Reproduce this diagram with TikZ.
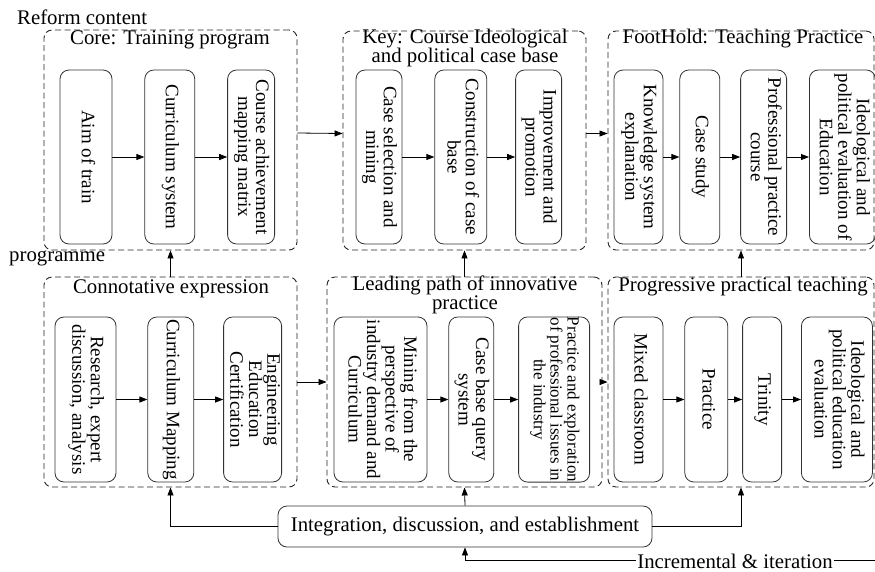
\documentclass[tikz,border=0pt]{standalone}
\usepackage{fontspec}
\setmainfont{Liberation Serif}
\usetikzlibrary{arrows.meta,positioning}
\newcommand{\vtext}[1]{\rotatebox{-90}{\begin{tabular}{@{}c@{}}#1\end{tabular}}}

\begin{document}
\begin{tikzpicture}[
    x=1pt, y=-1pt,
    stage/.style={draw=black!80, line width=0.8pt, rounded corners=9pt, inner sep=0pt, minimum height=174pt, font=\fontsize{19}{17.5}\selectfont},
    lowstage/.style={stage, minimum height=165pt},
    group/.style={draw=black!85, line width=0.9pt, dash pattern=on 6pt off 3.5pt, rounded corners=8pt, inner sep=0pt},
    ttl/.style={align=center, inner sep=0pt, font=\fontsize{20.8}{18}\selectfont},
    link/.style={-{Triangle[length=8pt,width=6pt]}, line width=0.8pt}
]
\useasboundingbox (0,0) rectangle (875,571);

% dashed frames
\node[group, minimum width=253pt, minimum height=220pt] (core) at (170.5,140) {};
\node[group, minimum width=243pt, minimum height=219pt] (key) at (464.5,140.5) {};
\node[group, minimum width=266pt, minimum height=219pt] (foothold) at (741,140.5) {};
\node[group, minimum width=253pt, minimum height=210pt] (connot) at (170.5,382) {};
\node[group, minimum width=275pt, minimum height=210pt] (leading) at (464.5,382) {};
\node[group, minimum width=266pt, minimum height=210pt] (progressive) at (741,382) {};

% titles
\node[ttl, anchor=west] (reform) at (17,17) {Reform content};
\node[ttl, anchor=west] (programme) at (9,258) {programme};
\node[ttl] (tcore) at (170,40) {Core: Training program};
\node[ttl] (tkey) at (465,48) {Key: Course Ideological\\and political case base};
\node[ttl] (tfoot) at (743,39) {FootHold: Teaching Practice};
\node[ttl] (tconnot) at (171,289) {Connotative expression};
\node[ttl] (tlead) at (465,295) {Leading path of innovative\\practice};
\node[ttl] (tprog) at (743,287) {Progressive practical teaching};

% top row
\node[stage, minimum width=52pt] (aim) at (86,157) {\vtext{Aim of train}};
\node[stage, minimum width=50pt, right=32pt of aim] (cursys) {\vtext{Curriculum system}};
\node[stage, minimum width=47pt, right=32pt of cursys] (matrix) {\vtext{Course achievement\\mapping matrix}};
\node[stage, minimum width=46pt] (casesel) at (379,157) {\vtext{Case selection and\\mining}};
\node[stage, minimum width=52pt, right=32pt of casesel] (casebase) {\vtext{Construction of case\\base}};
\node[stage, minimum width=46pt, right=28pt of casebase] (improve) {\vtext{Improvement and\\promotion}};
\node[stage, minimum width=49pt] (knowledge) at (638.5,157) {\vtext{Knowledge system\\explanation}};
\node[stage, minimum width=40pt, right=16pt of knowledge] (casestudy) {\vtext{Case study}};
\node[stage, minimum width=46pt, right=20pt of casestudy] (profprac) {\vtext{Professional practice\\course}};
\node[stage, minimum width=66pt, right=22pt of profprac] (ideoedu) {\vtext{Ideological and\\political evaluation of\\Education}};

% bottom row
\node[lowstage, minimum width=61pt] (research) at (85.5,399.5) {\vtext{Research, expert\\discussion, analysis}};
\node[lowstage, minimum width=46pt, right=31pt of research] (curmap) {\vtext{Curriculum Mapping}};
\node[lowstage, minimum width=58pt, right=29pt of curmap] (engedu) {\vtext{Engineering\\Education\\Certification}};
\node[lowstage, minimum width=93pt] (mining) at (380.5,399.5) {\vtext{Mining from the\\perspective of\\industry demand and\\Curriculum}};
\node[lowstage, minimum width=45pt, right=21pt of mining] (query) {\vtext{Case base query\\system}};
\node[lowstage, minimum width=71pt, right=24pt of query, font=\fontsize{17}{16.5}\selectfont] (explore) {\vtext{Practice and exploration\\of professional issues in\\the industry}};
\node[lowstage, minimum width=49pt] (mixed) at (638.5,399.5) {\vtext{Mixed classroom}};
\node[lowstage, minimum width=43pt, right=21pt of mixed] (practice) {\vtext{Practice}};
\node[lowstage, minimum width=39pt, right=14pt of practice] (trinity) {\vtext{Trinity}};
\node[lowstage, minimum width=71pt, right=19pt of trinity] (evaluation) {\vtext{Ideological and\\political education\\evaluation}};

\node[draw=black!80, line width=0.8pt, rounded corners=9pt, minimum width=374pt, minimum height=41pt, inner sep=0pt, font=\fontsize{20.8}{18}\selectfont] (integ) at (465,526.5) {Integration, discussion, and establishment};
\coordinate (iter) at (875,560);

% arrows inside frames
\draw[link] (aim) -- (cursys);
\draw[link] (cursys) -- (matrix);
\draw[link] (casesel) -- (casebase);
\draw[link] (casebase) -- (improve);
\draw[link] (knowledge) -- (casestudy);
\draw[link] (casestudy) -- (profprac);
\draw[link] (profprac) -- (ideoedu);
\draw[link] (research) -- (curmap);
\draw[link] (curmap) -- (engedu);
\draw[link] (mining) -- (query);
\draw[link] (query) -- (explore);
\draw[link] (mixed) -- (practice);
\draw[link] (practice) -- (trinity);
\draw[link] (trinity) -- (evaluation);

% arrows between frames
\draw[link] ([yshift=7pt]core.east) -- ([yshift=7pt]key.west);
\draw[link] ([yshift=7pt]key.east) -- ([yshift=7pt]foothold.west);
\draw[link] (connot.east) -- (leading.west);
\draw[link] (leading.east) -- (progressive.west);
\draw[link] (connot.north) -- (core.south);
\draw[link] (leading.north) -- (key.south);
\draw[link] (progressive.north) -- (foothold.south);
\draw[link] (integ.west) -| (connot.south);
\draw[link] (integ.north) -- (leading.south);
\draw[link] (integ.east) -| (progressive.south);
\draw[link] (iter) -| (integ.south);
\node[ttl, fill=white, inner xsep=1pt] (incr) at (735,561) {Incremental \& iteration};
\end{tikzpicture}
\end{document}
